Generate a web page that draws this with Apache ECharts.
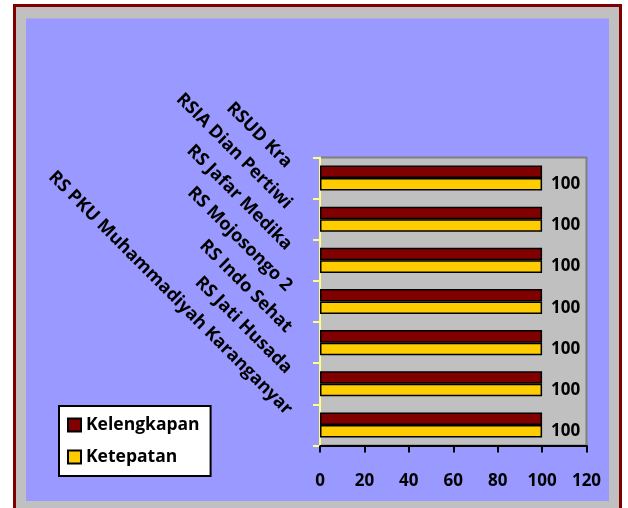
<!DOCTYPE html>
<html>
<head>
<meta charset="utf-8">
<script src="https://cdn.jsdelivr.net/npm/echarts@6/dist/echarts.min.js"></script>
<style>
html,body{margin:0;padding:0;background:#fff;}
#c{width:628px;height:508px;}
</style>
</head>
<body>
<div id="c"></div>
<script>
// categories listed bottom -> top
const categories = ['RS PKU Muhammadiyah Karanganyar','RS Jati Husada','RS Indo Sehat','RS Mojosongo 2','RS Jafar Medika','RSIA Dian Pertiwi','RSUD Kra'];
const kelengkapan = [100,100,100,100,100,100,100];
const ketepatan = [100,100,100,100,100,100,100];
const xMin = 0, xMax = 120, xStep = 20;
const seriesNames = ['Kelengkapan','Ketepatan'];

const FONT = 'Open Sans';
const chart = echarts.init(document.getElementById('c'), null, {renderer:'canvas'});
chart.setOption({
  backgroundColor:'#ffffff',
  animation:false,
  graphic:[
    {type:'rect', z:-10, silent:true, shape:{x:14.5,y:5.5,width:606,height:540},
     style:{fill:'#C0C0C0', stroke:'#800000', lineWidth:3}},
    {type:'rect', z:-9, silent:true, shape:{x:26,y:18.5,width:583,height:482.5},
     style:{fill:'#9999FF'}}
  ],
  legend:{
    orient:'vertical', left:59, top:406,
    backgroundColor:'#ffffff', borderColor:'#000000', borderWidth:2, borderRadius:0,
    padding:[10,11,10,8], itemGap:14, itemWidth:13, itemHeight:13,
    icon:'rect',
    textStyle:{fontFamily:FONT, fontWeight:'bold', fontSize:17.5, color:'#000'},
    data:seriesNames
  },
  grid:{left:320, right:41.5, top:157.5, bottom:62.5, show:true,
        backgroundColor:'#C0C0C0', borderColor:'#808080', borderWidth:2, containLabel:false},
  xAxis:{
    type:'value', min:xMin, max:xMax, interval:xStep,
    axisLine:{show:true, lineStyle:{color:'#000', width:2}},
    axisTick:{show:true, length:7, lineStyle:{color:'#000', width:2}},
    splitLine:{show:false},
    axisLabel:{fontFamily:FONT, fontWeight:'bold', fontSize:17, color:'#000', margin:27}
  },
  yAxis:{
    type:'category', data:categories,
    axisLine:{show:true, lineStyle:{color:'#FFFF80', width:2}},
    axisTick:{show:true, length:7, lineStyle:{color:'#FFFF80', width:2}},
    axisLabel:{interval:0, rotate:-45, fontFamily:FONT, fontWeight:'bold', fontSize:18, color:'#000',
               margin:44, align:'right', verticalAlign:'bottom', lineHeight:37}
  },
  series:[
    {name:seriesNames[0], type:'bar', data:kelengkapan, barGap:'0%', barCategoryGap:'39%',
     itemStyle:{color:'#800000', borderColor:'#000', borderWidth:1.5}},
    {name:seriesNames[1], type:'bar', data:ketepatan, barGap:'0%', barCategoryGap:'39%',
     itemStyle:{color:'#FFCC00', borderColor:'#000', borderWidth:1.5},
     label:{show:true, position:'right', distance:9, fontFamily:FONT, fontWeight:'bold', fontSize:17, color:'#000'}}
  ]
});
</script>
</body>
</html>
